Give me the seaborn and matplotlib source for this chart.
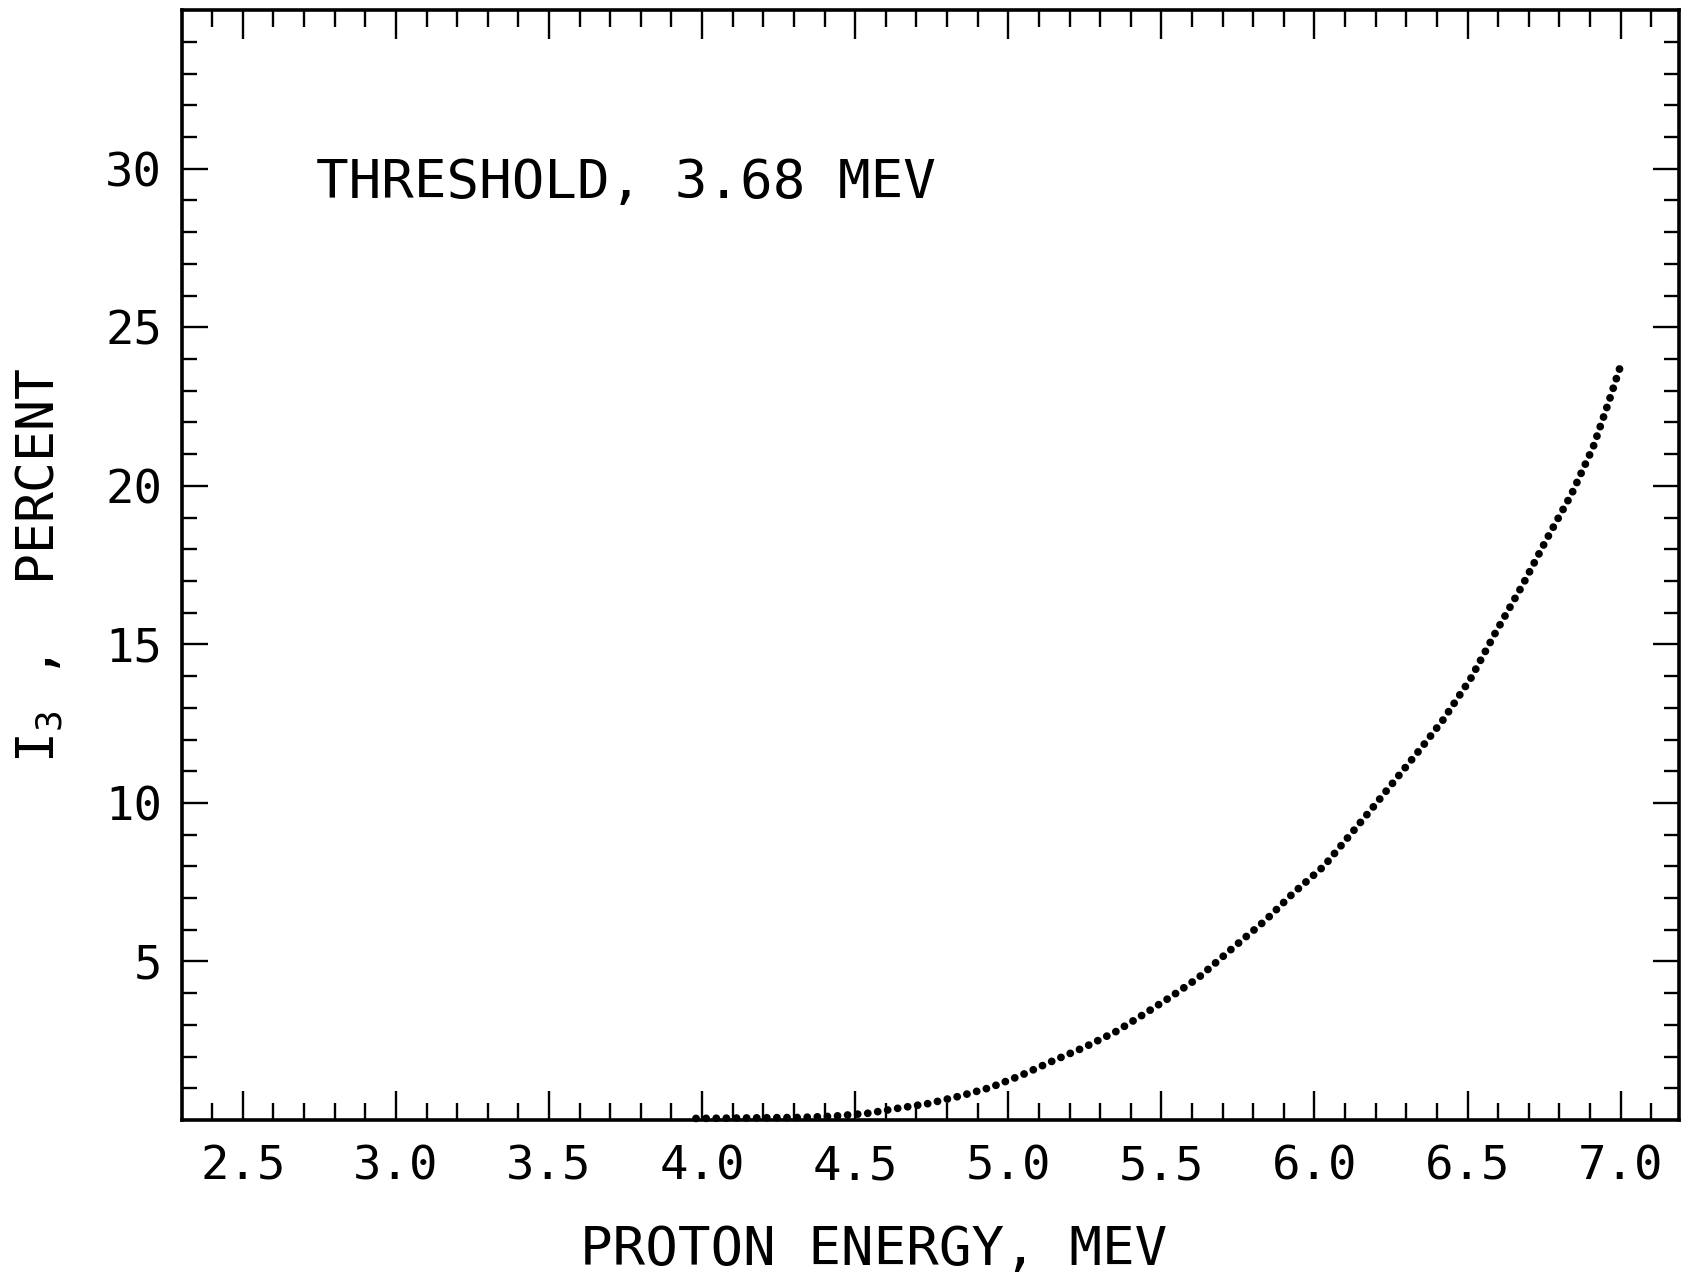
import numpy as np
import pandas as pd
import matplotlib
matplotlib.use("Agg")
import matplotlib.pyplot as plt
import seaborn as sns

# ---- data ----
energy_mev = [3.98, 4.10, 4.20, 4.32, 4.43, 4.54, 4.64, 4.74, 4.84, 4.94,
              5.04, 5.14, 5.25, 5.35, 5.44, 5.53, 5.62, 5.73, 5.84, 5.93,
              6.03, 6.11, 6.19, 6.27, 6.35, 6.42, 6.51, 6.59, 6.68, 6.76,
              6.84, 6.91, 6.96, 7.00]
i3_percent = [0.05, 0.06, 0.07, 0.08, 0.12, 0.21, 0.37, 0.52, 0.75, 1.02,
              1.40, 1.84, 2.30, 2.78, 3.32, 3.88, 4.48, 5.40, 6.30, 7.15,
              8.00, 8.92, 9.85, 10.80, 11.75, 12.62, 13.92, 15.35, 16.88, 18.35,
              19.75, 21.22, 22.62, 23.80]
x_major_ticks = [2.5, 3.0, 3.5, 4.0, 4.5, 5.0, 5.5, 6.0, 6.5, 7.0]
x_tick_labels = ["2.5", "3.0", "3.5", "4.0", "4.5", "5.0", "5.5", "6.0", "6.5", "7.0"]
y_major_ticks = [5, 10, 15, 20, 25, 30]
y_tick_labels = ["5", "10", "15", "20", "25", "30"]
annotation = "THRESHOLD, 3.68 MEV"
x_title = "PROTON ENERGY, MEV"
y_title = r"I$_\mathregular{3}$ ,  PERCENT"

df = pd.DataFrame({"energy": energy_mev, "i3": i3_percent})

sns.set_theme(style="ticks", rc={"text.color": "black", "axes.labelcolor": "black",
                                 "xtick.color": "black", "ytick.color": "black",
                                 "axes.edgecolor": "black"})
plt.rcParams["font.family"] = ["DejaVu Sans Mono", "DejaVu Sans"]
plt.rcParams["mathtext.fontset"] = "custom"
plt.rcParams["mathtext.rm"] = "DejaVu Sans Mono"
plt.rcParams["mathtext.it"] = "DejaVu Sans Mono"

fig = plt.figure(figsize=(16.89, 12.8), dpi=100)
ax = fig.add_axes([0.1075, 0.125, 0.8865, 0.867])

sns.lineplot(data=df, x="energy", y="i3", ax=ax, color="black",
             linewidth=5.6, linestyle=(0, (0.01, 1.29)),
             dash_capstyle="round", estimator=None, sort=False,
             zorder=4, clip_on=False)

ax.set_xlim(2.3, 7.19)
ax.set_ylim(0, 35)

ax.set_xticks(x_major_ticks)
ax.set_xticklabels(x_tick_labels)
ax.set_xticks(np.arange(2.4, 7.15, 0.1), minor=True)
ax.set_yticks(y_major_ticks)
ax.set_yticklabels(y_tick_labels)
ax.set_yticks(np.arange(1, 35, 1), minor=True)

ax.tick_params(axis="x", which="major", direction="in", length=21, width=1.7,
               top=True, bottom=True, labelsize=34, pad=18, color="black",
               labelcolor="black")
ax.tick_params(axis="x", which="minor", direction="in", length=12, width=1.7,
               top=True, bottom=True, color="black")
ax.tick_params(axis="y", which="major", direction="in", length=19, width=1.7,
               left=True, right=True, labelsize=34, pad=14, color="black",
               labelcolor="black")
ax.tick_params(axis="y", which="minor", direction="in", length=11, width=1.7,
               left=True, right=True, color="black")

for s in ax.spines.values():
    s.set_visible(True)
    s.set_linewidth(2.6)
    s.set_color("black")

ax.set_xlabel(x_title, fontsize=39, color="black")
ax.xaxis.label.set_va("center")
ax.xaxis.set_label_coords(0.462, -0.117)
ax.set_ylabel(y_title, fontsize=37, color="black")
ax.yaxis.label.set_va("center")
ax.yaxis.set_label_coords(-0.095, 0.50)

ax.text(2.74, 29.55, annotation, fontsize=39, ha="left", va="center",
        color="black")

ax.set_facecolor("white")
fig.patch.set_facecolor("white")
fig.savefig("out.png", dpi=100, facecolor="white")
